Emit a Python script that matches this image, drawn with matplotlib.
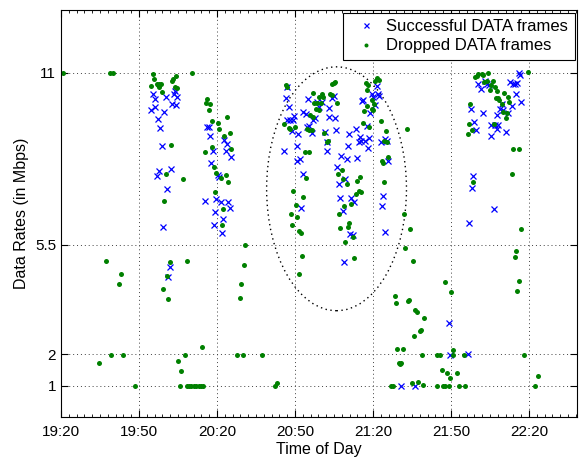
import matplotlib
matplotlib.use("Agg")
import matplotlib.pyplot as plt
from matplotlib.patches import Ellipse
from matplotlib.ticker import MultipleLocator

plt.rcParams['font.family'] = ['Liberation Sans', 'DejaVu Sans']

# Zeit in Minuten nach 19:20, Rate in Mbps
succ_t = [35.3, 36.0, 40.3, 43.5, 44.0, 44.7, 42.7, 44.2, 34.6, 36.2, 39.7, 37.3, 38.2, 38.8,
          37.7, 36.8, 42.3, 40.8, 39.3, 41.8, 41.3,
          56.2, 56.9, 57.3, 62.8, 64.0, 58.3, 63.3, 65.3, 57.7, 60.4, 60.9, 59.7, 61.4, 64.4,
          64.9, 55.4, 59.2, 62.3, 58.8, 61.8,
          86.8, 86.5, 87.8, 89.7, 89.3, 88.1, 86.8, 88.9, 91.3, 85.9, 90.9, 91.9, 90.7, 93.0,
          92.3, 94.9, 93.2, 94.2, 97.0, 97.7, 94.5, 95.5, 96.4, 98.6, 100.4, 99.3, 103.1,
          101.4, 102.2, 102.4, 103.1, 105.5, 104.2, 105.0, 105.8, 107.8, 109.9, 106.3, 106.8,
          109.1, 107.3, 108.5, 111.7, 112.7, 111.0, 112.3, 110.8, 110.4, 113.5, 114.0, 115.0,
          114.6, 115.5, 116.8, 118.0, 118.6, 117.6, 115.7, 116.3, 119.5, 120.1, 121.4, 122.0,
          122.4, 120.8, 118.8, 123.0, 124.7, 125.3, 125.7, 123.8, 123.3, 124.5, 108.8,
          130.9, 136.3, 149.3, 149.7, 156.5,
          176.2, 176.5, 172.7, 173.7, 174.6, 175.3, 160.5, 161.5, 163.1, 163.7, 164.7, 175.0,
          176.9, 173.6, 169.5, 157.6, 162.4, 168.8, 169.9, 167.9, 172.0, 159.0, 159.5, 165.6,
          166.9, 168.2, 167.8, 165.3, 171.2, 158.5, 158.0, 166.5, 157.0]
succ_r = [10.31, 10.17, 10.22, 10.33, 10.41, 10.22, 10.01, 9.96, 9.80, 9.90, 9.74, 9.53, 9.22, 8.67,
          7.87, 7.69, 7.91, 7.27, 6.08, 4.78, 4.46,
          9.26, 9.26, 8.97, 8.86, 8.73, 8.49, 8.51, 8.32, 8.11, 7.72, 7.68, 6.96, 6.88, 6.88,
          6.69, 6.89, 6.54, 6.34, 6.12, 5.89,
          10.54, 10.20, 9.90, 9.60, 9.48, 9.48, 9.50, 9.13, 9.05, 8.51, 8.67, 8.25, 8.17, 7.75,
          6.68, 10.17, 9.74, 9.69, 9.50, 9.56, 9.26, 9.28, 9.07, 10.06, 10.06, 9.90, 9.88,
          9.10, 8.78, 8.49, 9.58, 9.56, 10.20, 10.24, 9.18, 8.35, 8.25, 8.00, 7.43,
          7.59, 6.99, 6.57, 6.98, 6.88, 5.83, 5.80, 9.05, 8.65, 9.21, 8.28, 8.94,
          8.78, 8.81, 8.80, 8.60, 8.92, 9.28, 10.08, 10.12, 10.33, 10.22, 10.56, 10.33,
          10.24, 9.96, 9.72, 8.78, 8.89, 8.81, 8.19, 7.07, 6.73, 5.90, 4.96,
          1.0, 1.0, 2.99, 1.98, 2.0,
          10.99, 10.92, 10.70, 10.65, 10.63, 10.67, 10.65, 10.49, 10.73, 10.63, 10.60, 10.32,
          10.05, 9.93, 10.01, 9.85, 9.71, 9.85, 9.80, 9.64, 9.71, 9.42, 9.16, 9.32,
          9.32, 9.32, 9.20, 8.98, 9.10, 7.71, 7.32, 6.65, 6.19]

drop_t = [0.9, 18.8, 20.1, 17.3, 23.2, 22.2, 14.7, 19.2, 23.7, 28.3,
          35.3, 35.8, 36.8, 37.8, 38.5, 34.7, 37.3, 37.8, 38.8, 44.3, 43.2, 42.7, 43.7, 44.7,
          50.4, 42.3, 40.3, 46.8, 39.7, 41.8, 40.8, 39.2, 41.3, 48.3, 45.1, 46.3, 47.8, 54.3,
          45.8, 48.4, 49.3, 50.2, 51.1, 52.0, 52.9, 53.8, 54.8,
          56.2, 55.8, 57.3, 56.8, 58.2, 60.4, 63.8, 60.9, 64.9, 62.8, 65.3, 58.0, 55.3, 58.8,
          59.7, 61.4, 63.3, 64.4, 59.2, 62.3, 61.8, 70.9, 70.3, 69.2, 68.7, 67.8, 69.9, 77.2,
          82.3, 83.2,
          86.5, 86.8, 90.0, 85.9, 87.6, 88.1, 93.8, 95.4, 94.3, 89.3, 93.2, 90.3, 88.5, 90.9,
          88.8, 91.7, 92.3, 92.8, 91.4, 97.0, 99.1, 100.4, 100.9, 97.4, 98.5, 100.1, 98.1,
          99.1, 95.8, 97.0, 94.6, 95.5, 96.4, 103.3, 104.1, 104.2, 105.0, 105.5, 106.0, 101.3,
          102.2, 102.7, 108.0, 106.4, 108.3, 109.9, 113.8, 114.9, 114.5, 115.3, 113.5, 108.8,
          111.4, 106.9, 110.6, 110.4, 112.4, 107.3, 109.3, 112.8, 117.3, 118.1, 117.6, 121.4,
          122.4, 120.8, 119.5, 120.4, 117.8, 116.5, 119.6, 120.1, 123.0, 118.5, 116.0, 124.9,
          125.3, 124.2, 125.9, 123.3, 124.0, 124.3, 133.0, 131.9, 134.3, 132.4, 135.4,
          128.5, 129.0, 133.5, 134.0, 136.3, 136.9, 139.7, 138.1, 138.6, 135.9, 129.2, 131.4,
          130.3, 130.8, 129.9, 138.8, 126.9, 127.8, 135.0, 137.4, 139.3, 144.5, 146.8, 147.8,
          149.1, 153.0, 155.5, 144.7, 145.8, 146.4, 148.5, 149.5, 147.8, 150.0, 150.7, 150.9,
          152.4, 155.0,
          179.5, 159.2, 160.5, 161.8, 162.4, 164.3, 159.9, 162.8, 163.7, 166.0, 165.4, 166.9,
          165.0, 167.8, 170.4, 172.0, 172.4, 167.3, 168.2, 168.6, 169.5, 170.1, 171.7, 171.2,
          157.4, 157.1, 158.0, 156.4, 166.5, 174.0, 176.3, 173.5, 158.5, 176.9, 175.0, 174.5,
          176.0, 175.5, 178.0, 183.5, 182.4]
drop_r = [11.0, 11.0, 11.0, 4.99, 4.57, 4.25, 1.73, 1.98, 1.98, 0.98,
          10.97, 10.79, 10.65, 10.65, 10.65, 10.56, 10.60, 10.54, 10.37, 10.90, 10.79, 10.73, 10.54, 10.50,
          11.0, 8.69, 7.75, 7.59, 6.89, 4.94, 4.49, 4.09, 3.77, 4.99, 1.79, 1.48, 1.98, 2.23,
          0.98, 1.0, 1.0, 1.0, 1.0, 1.0, 1.0, 1.0, 1.0,
          10.15, 10.03, 10.01, 9.82, 9.44, 9.39, 9.58, 9.21, 9.07, 8.96, 8.55, 8.62, 8.45, 8.00,
          7.79, 7.62, 7.72, 7.51, 7.19, 6.64, 6.14, 5.50, 4.87, 4.25, 3.79, 1.98, 1.98, 1.98,
          0.98, 1.08,
          10.60, 10.54, 9.26, 9.35, 9.24, 9.21, 8.46, 8.46, 7.64, 7.21, 7.02, 6.78, 6.48, 6.40,
          6.14, 5.93, 5.87, 5.13, 4.57, 10.35, 10.22, 10.33, 10.22, 10.03, 10.03, 10.03, 9.85,
          9.80, 9.64, 9.58, 9.21, 9.18, 9.18, 10.33, 10.28, 10.63, 10.67, 10.70, 10.03, 9.07,
          8.78, 8.81, 7.90, 7.77, 7.61, 7.45, 7.53, 7.66, 7.23, 7.20, 7.11, 6.75,
          6.79, 6.47, 6.19, 6.06, 5.76, 6.04, 5.58, 5.07, 10.67, 10.60, 10.46, 10.84,
          10.78, 10.73, 10.12, 10.01, 9.92, 9.77, 9.85, 9.80, 9.45, 9.26, 9.39, 9.13,
          8.78, 8.83, 8.30, 8.19, 8.11, 7.50, 9.21, 6.49, 5.99, 5.39, 4.99,
          3.86, 3.63, 3.70, 3.74, 3.43, 3.35, 3.16, 2.75, 2.79, 2.58, 2.18, 2.18,
          1.69, 1.73, 1.71, 1.98, 0.98, 0.98, 1.10, 1.13, 1.02, 0.98, 0.98, 0.98,
          0.98, 0.98, 0.98, 1.98, 1.98, 1.49, 1.42, 1.24, 4.32, 3.99, 2.15, 1.98,
          1.39, 1.98,
          11.02, 10.86, 10.95, 10.97, 10.92, 10.99, 10.88, 10.70, 10.73, 10.73, 10.60, 10.54,
          10.46, 10.41, 10.35, 10.22, 10.06, 10.19, 10.19, 10.14, 10.01, 9.74, 9.72, 9.56,
          10.0, 9.37, 9.16, 9.03, 9.37, 8.57, 8.57, 7.75, 7.52, 6.01, 5.31, 5.10,
          4.33, 4.03, 1.98, 1.31, 0.98]

x_ticks = [0, 30, 60, 90, 120, 150, 180]
x_labels = ["19:20", "19:50", "20:20", "20:50", "21:20", "21:50", "22:20"]
y_ticks = [1, 2, 5.5, 11]
y_labels = ["1", "2", "5.5", "11"]

fig = plt.figure(figsize=(5.8, 4.57), dpi=100)
ax = fig.add_axes([61 / 580, 40 / 457, 516 / 580, 407 / 457])

ax.plot(succ_t, succ_r, 'x', color='blue', markersize=4.5, markeredgewidth=0.9,
        linestyle='none', label='Successful DATA frames')
ax.plot(drop_t, drop_r, 'o', color=(0, 0.5, 0), markersize=3.6, markeredgewidth=0,
        linestyle='none', label='Dropped DATA frames')

# markierter Bereich
ell = Ellipse((106.0, 7.29), 53.8, 7.79, fill=False, edgecolor='black',
              linestyle=(0, (1, 2.5)), linewidth=1.0)
ax.add_patch(ell)

ax.set_xlim(0, 198.5)
ax.set_ylim(0, 13)
ax.set_xticks(x_ticks)
ax.set_xticklabels(x_labels)
ax.set_yticks(y_ticks)
ax.set_yticklabels(y_labels)
ax.xaxis.set_minor_locator(MultipleLocator(3))
ax.tick_params(which='both', direction='in', top=True, right=True, labelsize=11)
ax.tick_params(axis='x', which='major', pad=6)
ax.tick_params(which='major', length=5, width=0.8)
ax.tick_params(which='minor', length=2.5, width=0.6)
ax.grid(True, which='major', linestyle=(0, (1, 3)), color='0.25', linewidth=0.7)

ax.set_xlabel("Time of Day", fontsize=11.5, labelpad=2)
ax.set_ylabel("Data Rates (in Mbps)", fontsize=11.5, labelpad=4)

leg = ax.legend(loc='upper right', fontsize=12, fancybox=False, framealpha=1,
                edgecolor='black', borderaxespad=0.15, handlelength=2.0,
                handletextpad=0.2, borderpad=0.4, labelspacing=0.25, markerscale=0.8)
leg.get_frame().set_linewidth(0.8)

fig.savefig("out.png", dpi=100)
